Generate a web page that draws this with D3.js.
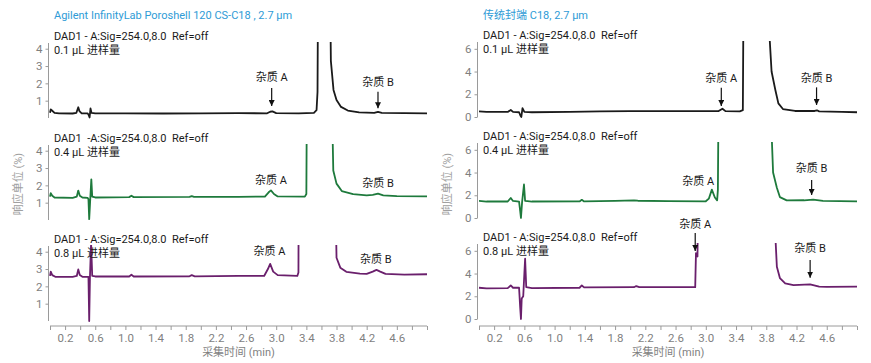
<!DOCTYPE html>
<html><head><meta charset="utf-8">
<script src="https://cdn.jsdelivr.net/npm/d3@7"></script>
<style>
html,body{margin:0;padding:0;background:#fff;}
svg text{font-family:Roboto,"Noto Sans CJK SC",sans-serif;}
</style></head>
<body><svg id="c" width="871" height="363"></svg>
<script>
// ---------- data (time in min, response in %) ----------
const xTickValues = d3.range(0, 5.01, 0.2);
const xTickLabels = [0.2, 0.6, 1.0, 1.4, 1.8, 2.2, 2.6, 3.0, 3.4, 3.8, 4.2, 4.6];
const leftYTicks = [1, 2, 3, 4];
const rightYTicks = [0, 2, 4, 6];

const titles = ["Agilent InfinityLab Poroshell 120 CS-C18 , 2.7 µm", "传统封端 C18, 2.7 µm"];
const sigLabelsLeft = ["DAD1 - A:Sig=254.0,8.0  Ref=off", "DAD1  -A:Sig=254.0,8.0  Ref=off", "DAD1 - A:Sig=254.0,8.0  Ref=off"];
const sigLabelsRight = ["DAD1 - A:Sig=254.0,8.0  Ref=off", "DAD1 - A:Sig=254.0,8.0  Ref=off", "DAD1 - A:Sig=254.0,8.0  Ref=off"];
const volumeLabels = ["0.1 µL 进样量", "0.4 µL 进样量", "0.8 µL 进样量"];
const traceColors = ["#1a1a1a", "#1e7a3c", "#6a1f6c"];

const leftTrace01 = [[0,0.3],[0.01,0.5],[0.03,0.42],[0.06,0.3],[0.12,0.27],[0.3,0.26],[0.35,0.3],[0.375,0.62],[0.39,0.4],[0.42,0.27],[0.5,0.27],[0.515,0.15],[0.525,0.03],[0.537,0.55],[0.55,0.3],[0.6,0.27],[1.0,0.27],[1.5,0.26],[2.0,0.27],[2.5,0.28],[2.88,0.27],[2.92,0.36],[2.95,0.38],[3.0,0.28],[3.3,0.27],[3.5,0.3],[3.535,0.45],[3.548,1.5],[3.56,12],[3.63,60],[3.705,12],[3.725,3.3],[3.76,1.62],[3.80,1.04],[3.86,0.64],[3.95,0.43],[4.1,0.33],[4.3,0.3],[4.35,0.35],[4.4,0.3],[4.7,0.28],[5.0,0.27]];
const leftTrace04 = [[0,1.35],[0.01,1.55],[0.03,1.4],[0.06,1.3],[0.3,1.28],[0.355,1.35],[0.375,1.7],[0.395,1.4],[0.43,1.3],[0.5,1.28],[0.51,1.2],[0.52,0.05],[0.535,1.3],[0.548,2.35],[0.56,1.35],[0.6,1.3],[1.05,1.32],[1.08,1.4],[1.11,1.32],[1.85,1.34],[1.88,1.38],[1.91,1.34],[2.5,1.34],[2.85,1.35],[2.9,1.6],[2.93,1.71],[2.97,1.5],[3.02,1.36],[3.38,1.35],[3.40,1.5],[3.41,10],[3.5,60],[3.725,10],[3.757,2.86],[3.80,2.1],[3.87,1.67],[4.02,1.49],[4.2,1.42],[4.28,1.45],[4.35,1.52],[4.42,1.42],[4.6,1.38],[5.0,1.36]];
const leftTrace08 = [[0,2.6],[0.01,2.85],[0.03,2.65],[0.07,2.55],[0.3,2.55],[0.355,2.6],[0.375,2.98],[0.395,2.65],[0.43,2.55],[0.51,2.55],[0.52,0.0],[0.53,2.55],[0.545,4.5],[0.56,2.6],[0.6,2.57],[1.05,2.57],[1.08,2.67],[1.11,2.57],[1.85,2.58],[1.88,2.65],[1.92,2.58],[2.5,2.6],[2.84,2.6],[2.89,3.0],[2.92,3.3],[2.96,2.85],[3.02,2.65],[3.28,2.6],[3.295,2.8],[3.30,10],[3.5,60],[3.775,10],[3.80,3.65],[3.85,3.08],[3.93,2.84],[4.11,2.74],[4.2,2.72],[4.28,2.85],[4.33,2.95],[4.38,2.85],[4.45,2.72],[4.7,2.68],[5.0,2.7]];

const rightTrace01 = [[0,0.5],[0.1,0.45],[0.38,0.45],[0.42,0.62],[0.45,0.45],[0.53,0.42],[0.55,0.1],[0.56,0.0],[0.575,0.77],[0.6,0.45],[0.7,0.42],[1.2,0.45],[1.6,0.5],[2.0,0.52],[2.5,0.52],[3.0,0.52],[3.17,0.52],[3.22,0.73],[3.26,0.52],[3.45,0.5],[3.49,0.6],[3.50,12],[3.65,60],[3.80,12],[3.87,4.0],[3.92,2.38],[3.96,1.2],[4.02,0.7],[4.18,0.53],[4.44,0.53],[4.47,0.59],[4.5,0.5],[4.8,0.45],[5.0,0.42]];
const rightTrace04 = [[0,1.5],[0.1,1.45],[0.38,1.45],[0.42,1.76],[0.45,1.5],[0.53,1.45],[0.545,0.6],[0.555,0.0],[0.57,1.4],[0.595,2.95],[0.61,1.5],[0.7,1.45],[1.33,1.46],[1.36,1.6],[1.39,1.46],[1.8,1.5],[2.05,1.55],[2.1,1.52],[2.5,1.48],[3.0,1.47],[3.04,1.7],[3.08,2.5],[3.12,1.8],[3.15,1.55],[3.16,2.5],[3.17,12],[3.5,60],[3.845,12],[3.89,4.0],[3.94,2.66],[3.98,1.84],[4.07,1.55],[4.3,1.56],[4.42,1.62],[4.55,1.5],[5.0,1.46]];
const rightTrace08 = [[0,2.75],[0.1,2.7],[0.38,2.72],[0.42,2.95],[0.45,2.75],[0.53,2.75],[0.545,1.0],[0.555,0.0],[0.565,1.8],[0.585,2.0],[0.6,4.0],[0.61,5.3],[0.625,2.8],[0.7,2.72],[1.33,2.75],[1.36,2.95],[1.39,2.78],[2.05,2.8],[2.08,2.9],[2.12,2.8],[2.86,2.8],[2.87,5.8],[2.89,5.5],[2.9,12],[3.4,60],[3.885,12],[3.94,4.6],[3.98,3.6],[4.05,3.13],[4.16,2.98],[4.38,3.05],[4.5,2.85],[4.6,2.82],[5.0,2.85]];

// annotations: [label, time, labelValue, arrowFrom, arrowTo] (arrowFrom null = no arrow)
const leftNotes01 = [["杂质 A", 2.94, 2.33, 1.73, 0.69], ["杂质 B", 4.35, 2.06, 1.52, 0.56]];
const leftNotes04 = [["杂质 A", 2.93, 2.31, null, null], ["杂质 B", 4.35, 2.15, null, null]];
const leftNotes08 = [["杂质 A", 2.91, 4.04, null, null], ["杂质 B", 4.32, 3.58, null, null]];
const rightNotes01 = [["杂质 A", 3.205, 3.46, 2.58, 0.97], ["杂质 B", 4.465, 3.46, 2.61, 1.06]];
const rightNotes04 = [["杂质 A", 2.90, 3.28, null, null], ["杂质 B", 4.40, 4.37, 3.35, 2.02]];
const rightNotes08 = [["杂质 A", 2.86, 8.36, 7.57, 5.99], ["杂质 B", 4.38, 6.22, 5.19, 3.64]];

// ---------- layout ----------
const svg = d3.select("#c");
const cols = [
  {x0: 50, x1: 427, yDomain: [0, 4.33], yTicks: leftYTicks, bottoms: [118, 220, 321],
   traces: [leftTrace01, leftTrace04, leftTrace08], notes: [leftNotes01, leftNotes04, leftNotes08], sig: sigLabelsLeft, title: titles[0]},
  {x0: 479, x1: 857, yDomain: [0, 6.6], yTicks: rightYTicks, bottoms: [117, 218, 319],
   traces: [rightTrace01, rightTrace04, rightTrace08], notes: [rightNotes01, rightNotes04, rightNotes08], sig: sigLabelsRight, title: titles[1]}
];
const panelH = 75;
const axisGray = "#9a9a9a", labelGray = "#7f7f7f";

svg.append("defs").append("marker").attr("id", "arr")
  .attr("viewBox", "0 0 10 10").attr("refX", 10).attr("refY", 5)
  .attr("markerWidth", 6).attr("markerHeight", 6).attr("markerUnits", "userSpaceOnUse")
  .attr("orient", "auto")
  .append("path").attr("d", "M0,0 L10,5 L0,10 z").attr("fill", "#111");

cols.forEach((col, ci) => {
  const x = d3.scaleLinear().domain([0, 5.0]).range([col.x0, col.x1]);
  // title
  svg.append("text").attr("x", col.x0 + 4).attr("y", 15).attr("dy", "0.35em")
    .attr("font-size", 11).attr("fill", "#2e9bd6").text(col.title);

  col.bottoms.forEach((yb, ri) => {
    const y = d3.scaleLinear().domain(col.yDomain).range([yb, yb - panelH]);
    const g = svg.append("g");
    // y axis
    const ya = g.append("g").attr("transform", `translate(${col.x0 - 1.5},0)`)
      .call(d3.axisLeft(y).tickValues(col.yTicks).tickSize(3).tickPadding(3).tickFormat(d3.format("d")));
    ya.select(".domain").attr("stroke", axisGray).attr("d", `M0,${yb}V${yb - panelH}`);
    ya.selectAll(".tick line").attr("stroke", axisGray);
    ya.selectAll(".tick text").attr("fill", labelGray).attr("font-size", 11.5)
      .attr("font-family", "Roboto,sans-serif");

    // clip
    const cid = `clip${ci}${ri}`;
    g.append("clipPath").attr("id", cid).append("rect")
      .attr("x", col.x0 - 2).attr("y", yb - panelH - 1).attr("width", col.x1 - col.x0 + 4).attr("height", panelH + 4);
    const line = d3.line().x(d => x(d[0])).y(d => y(d[1]));
    g.append("path").datum(col.traces[ri]).attr("clip-path", `url(#${cid})`)
      .attr("fill", "none").attr("stroke", traceColors[ri]).attr("stroke-width", 1.8)
      .attr("stroke-linejoin", "round").attr("d", line);

    // panel labels
    g.append("text").attr("x", col.x0 + 4).attr("y", yb - 82).attr("dy", "0.35em")
      .attr("font-size", 11).attr("fill", "#1a1a1a").style("white-space", "pre").text(col.sig[ri]);
    g.append("text").attr("x", col.x0 + 4).attr("y", yb - 67.5).attr("dy", "0.35em")
      .attr("font-size", 11).attr("fill", "#1a1a1a").text(volumeLabels[ri]);

    // annotations
    col.notes[ri].forEach(n => {
      g.append("text").attr("x", x(n[1])).attr("y", y(n[2])).attr("dy", "0.35em")
        .attr("text-anchor", "middle").attr("font-size", 11).attr("fill", "#1a1a1a").text(n[0]);
      if (n[3] !== null) {
        g.append("line").attr("x1", x(n[1])).attr("x2", x(n[1]))
          .attr("y1", y(n[3])).attr("y2", y(n[4]))
          .attr("stroke", "#111").attr("stroke-width", 1.2).attr("marker-end", "url(#arr)");
      }
    });

    if (ri === 2) {
      const xa = svg.append("g").attr("transform", `translate(0,${326})`)
        .call(d3.axisBottom(x).tickValues(xTickValues).tickSize(4).tickPadding(4)
          .tickFormat(d => xTickLabels.some(v => Math.abs(v - d) < 1e-6) ? d3.format(".1f")(d) : ""));
      xa.select(".domain").attr("stroke", axisGray).attr("d", `M${col.x0},0H${col.x1}`);
      xa.selectAll(".tick line").attr("stroke", axisGray);
      xa.selectAll(".tick text").attr("fill", labelGray).attr("font-size", 11.5)
        .attr("font-family", "Roboto,sans-serif");
      svg.append("text").attr("x", (col.x0 + col.x1) / 2).attr("y", 352).attr("dy", "0.35em")
        .attr("text-anchor", "middle").attr("font-size", 11).attr("fill", labelGray).text("采集时间 (min)");
    }
  });
  // y axis title
  const cx = col.x0 - 32, cy = 184;
  svg.append("text").attr("transform", `translate(${cx},${cy}) rotate(-90)`).attr("dy", "0.35em")
    .attr("text-anchor", "middle").attr("font-size", 11).attr("fill", "#a0a0a0").text("响应单位 (%)");
});
</script></body></html>
